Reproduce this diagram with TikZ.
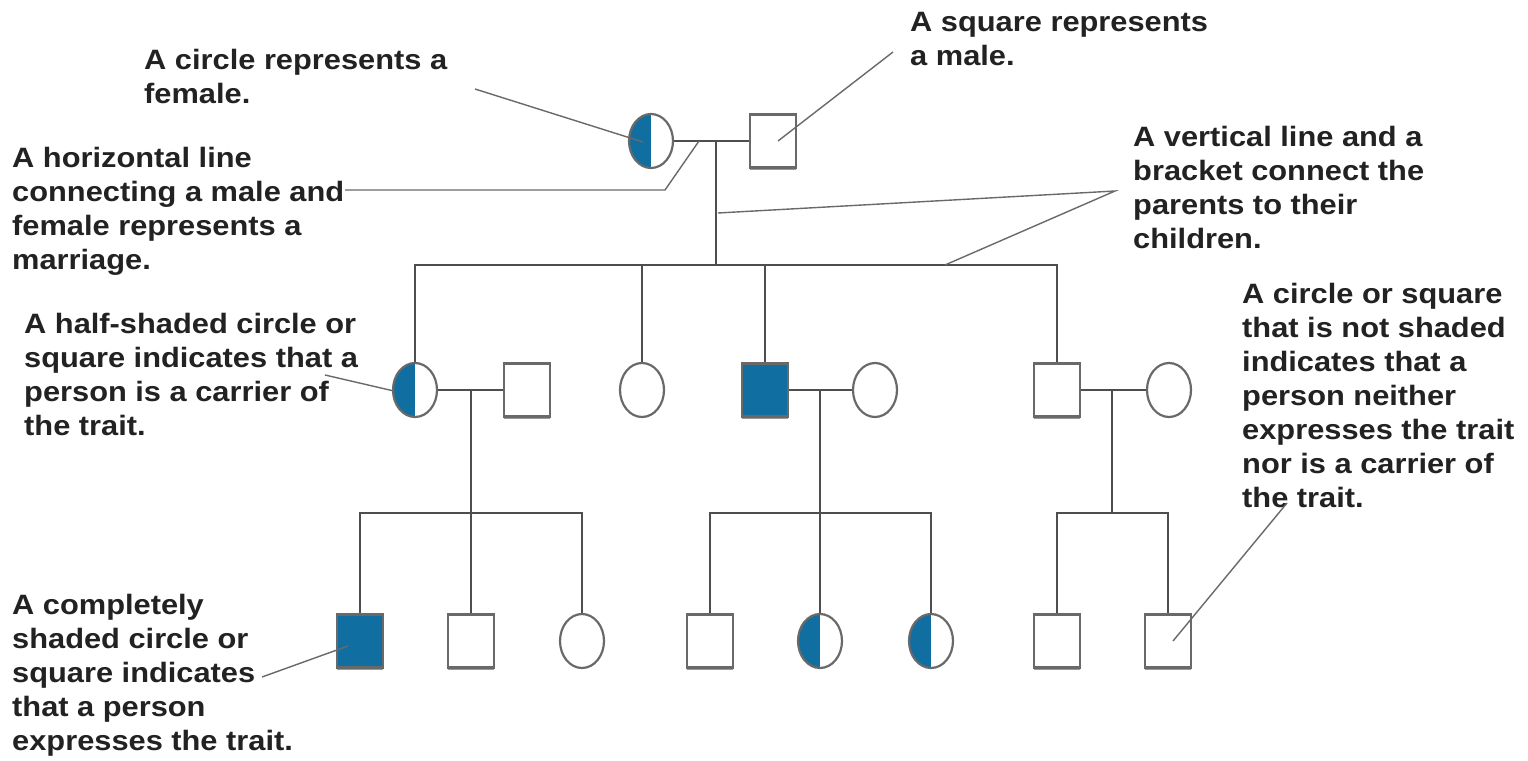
\documentclass[tikz,border=0pt]{standalone}
\usepackage{fontspec}
\setmainfont{Liberation Sans}[FakeStretch=1.1]
\usetikzlibrary{shapes.geometric,shadows,calc}
\definecolor{trait}{RGB}{16,111,160}
\definecolor{inkline}{RGB}{78,78,78}
\definecolor{outline}{RGB}{105,105,105}
\definecolor{labeltext}{RGB}{34,34,34}

\begin{document}
\begin{tikzpicture}[x=1pt,y=-1pt,
  person/.style={draw=outline, line width=2.2pt, fill=white, inner sep=0pt},
  female/.style={person, ellipse, minimum width=44pt, minimum height=54pt},
  male/.style={person, rectangle, minimum width=46pt, minimum height=53pt,
    drop shadow={shadow xshift=0pt, shadow yshift=-2pt, fill=black, opacity=0.4}},
  affected/.style={fill=trait},
  carrier/.style={path picture={\fill[trait] (path picture bounding box.south west)
      rectangle (path picture bounding box.north);}},
  kin/.style={draw=inkline, line width=2.6pt},
  leader/.style={draw=outline, line width=1.4pt},
  note/.style={anchor=north west, inner sep=0pt, align=left, text=labeltext,
    font=\fontsize{28}{34}\selectfont\bfseries}
]
\fill[white] (0,0) rectangle (1528,760);
\useasboundingbox (0,0) rectangle (1528,760);

% first generation
\node[female, carrier] (g1f) at (651,141) {};
\node[male] (g1m) at (773,141) {};

% second generation
\node[female, carrier] (g2a) at (415,390) {};
\node[male] (g2b) at (527,390) {};
\node[female] (g2c) at (642,390) {};
\node[male, affected] (g2d) at (765,390) {};
\node[female] (g2e) at (875,390) {};
\node[male] (g2f) at (1057,390) {};
\node[female] (g2g) at (1169,390) {};

% third generation
\node[male, affected] (g3a) at (360,641) {};
\node[male] (g3b) at (471,641) {};
\node[female] (g3c) at (582,641) {};
\node[male] (g3d) at (710,641) {};
\node[female, carrier] (g3e) at (820,641) {};
\node[female, carrier] (g3f) at (931,641) {};
\node[male] (g3g) at (1057,641) {};
\node[male] (g3h) at (1168,641) {};

% marriage points and sibship brackets
\coordinate (k1) at (716,141);
\coordinate (b1) at (716,265);
\coordinate (k2) at (471,390);
\coordinate (b2) at (471,513);
\coordinate (k3) at (820,390);
\coordinate (b3) at (820,513);
\coordinate (k4) at (1112,390);
\coordinate (b4) at (1112,513);

\draw[kin] (g1f.east) -- (g1m.west);
\draw[kin] (k1) -- (b1);
\draw[kin] (g2a.north) |- (b1) -| (g2f.north);
\draw[kin] (g2c.north) -- (g2c.north |- b1);
\draw[kin] (g2d.north) -- (g2d.north |- b1);

\draw[kin] (g2a.east) -- (g2b.west);
\draw[kin] (k2) -- (b2);
\draw[kin] (g2d.east) -- (g2e.west);
\draw[kin] (k3) -- (b3);
\draw[kin] (g2f.east) -- (g2g.west);
\draw[kin] (k4) -- (b4);

\draw[kin] (g3a.north) |- (b2) -| (g3c.north);
\draw[kin] (g3b.north) -- (b2);
\draw[kin] (g3d.north) |- (b3) -| (g3f.north);
\draw[kin] (g3e.north) -- (b3);
\draw[kin] (g3g.north) |- (b4) -| (g3h.north);

% explanatory notes
\node[note] (nfemale) at (144,49) {A circle represents a\\female.};
\node[note] (nmarriage) at (12,147) {A horizontal line\\connecting a male and\\female represents a\\marriage.};
\node[note] (nmale) at (910,12) {A square represents\\a male.};
\node[note] (nbracket) at (1133,126) {A vertical line and a\\bracket connect the\\parents to their\\children.};
\node[note] (ncarrier) at (24,313) {A half-shaded circle or\\square indicates that a\\person is a carrier of\\the trait.};
\node[note] (naffected) at (12,594) {A completely\\shaded circle or\\square indicates\\that a person\\expresses the trait.};
\node[note] (nnormal) at (1242,283) {A circle or square\\that is not shaded\\indicates that a\\person neither\\expresses the trait\\nor is a carrier of\\the trait.};

% leader lines from the notes
\coordinate (lfemale) at (475,89);
\coordinate (lmale) at (893,52);
\coordinate (lmarriage) at (345,190);
\coordinate (lmarriagebend) at (665,190);
\coordinate (lmarriageend) at (699,141);
\coordinate (lbracket) at (1115,191);
\coordinate (lbracketv) at (718,213);
\coordinate (lbracketh) at (945,265);
\coordinate (lcarrier) at (325,375);
\coordinate (laffected) at (262,677);
\coordinate (lnormal) at (1287,503);

\draw[leader] (lfemale) -- ($(g1f.center)+(-8,1)$);
\draw[leader] (lmale) -- ($(g1m.center)+(5,0)$);
\draw[leader] (lmarriage) -- (lmarriagebend) -- (lmarriageend);
\draw[leader] (lbracketv) -- (lbracket) -- (lbracketh);
\draw[leader] (lcarrier) -- ($(g2a.west)+(2,1)$);
\draw[leader] (laffected) -- ($(g3a.center)+(-12,5)$);
\draw[leader] (lnormal) -- ($(g3h.center)+(5,0)$);
\end{tikzpicture}
\end{document}
